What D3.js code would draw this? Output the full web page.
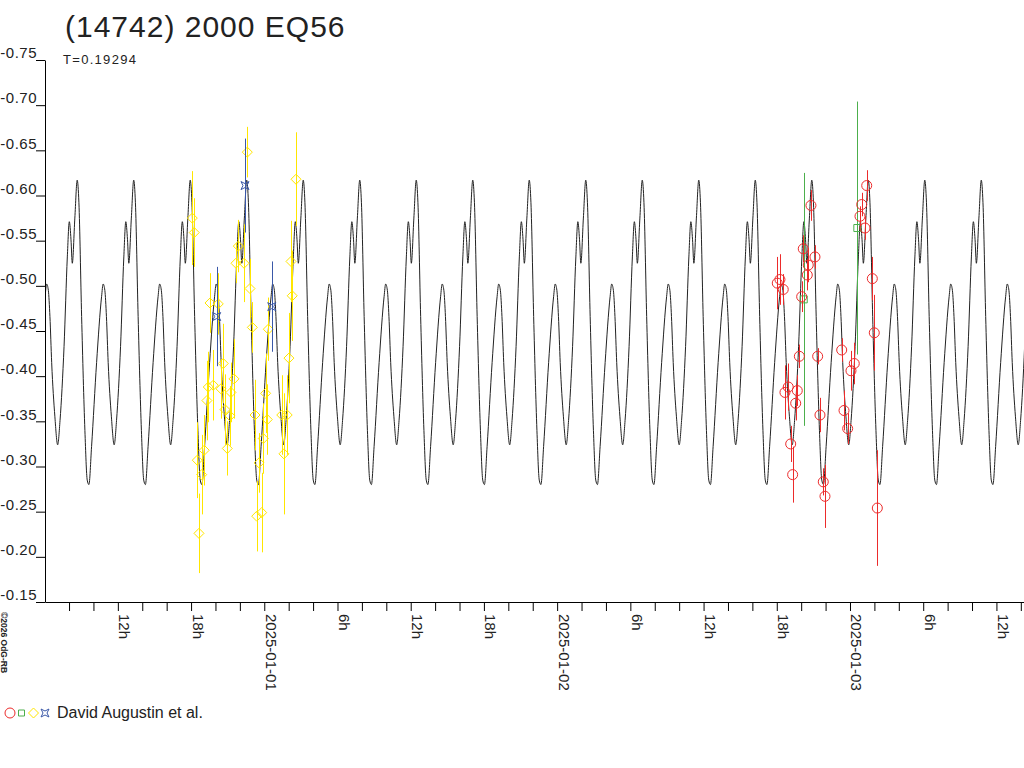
<!DOCTYPE html>
<html>
<head>
<meta charset="utf-8">
<script src="https://cdn.jsdelivr.net/npm/d3@7"></script>
<style>
    body { margin: 0; background: #fff; }
    svg { display: block; font-family: "Liberation Sans", Arial, sans-serif; }
</style>
</head>
<body>
<svg id="chart" width="1024" height="768"></svg>
<script>
const title = "(14742) 2000 EQ56";
const periodDays = 0.19294;
const observer = "David Augustin et al.";
const credit = "\u00a92026 OdG-RB";
const yTicks = [-0.75, -0.70, -0.65, -0.60, -0.55, -0.50, -0.45, -0.40, -0.35, -0.30, -0.25, -0.20, -0.15];

// time span shown, in hours from 2025-01-01 0h UT
const startHours = -17.97;
const endHours = 62.26;

// one period of the model lightcurve (phase 0 = brightest maximum)
const shapePhase = [0, 0.030, 0.078, 0.136, 0.177, 0.207, 0.254, 0.343, 0.431, 0.459, 0.489, 0.517, 0.548, 0.605, 0.654, 0.696, 0.767, 0.825, 0.860, 0.890, 0.913, 0.958];
const shapeMag = [-0.617, -0.592, -0.466, -0.340, -0.285, -0.280, -0.322, -0.415, -0.488, -0.502, -0.495, -0.466, -0.415, -0.355, -0.324, -0.351, -0.433, -0.532, -0.571, -0.551, -0.525, -0.575];
const shapeEpochHours = -15.33;

// yellow diamonds
const yellowHours = [-5.90, -5.74, -4.45, -3.77, -1.39, -2.13, -2.32, -1.66, -1.17, 2.60, 2.19, 2.29, -0.98, 0.33, -3.36, -2.48, -4.59, -4.18, -3.55, -2.73, -4.70, -3.22, -2.81, -3.03, -5.49, -4.92, -5.13, -5.35, 0.11, -0.76, 0.25, -0.08, -0.43, -0.62, -0.21, 2.02, 1.43, 1.88, 1.61];
const yellowMag = [-0.575, -0.559, -0.481, -0.480, -0.648, -0.544, -0.525, -0.525, -0.497, -0.618, -0.527, -0.489, -0.454, -0.452, -0.414, -0.397, -0.388, -0.390, -0.386, -0.382, -0.373, -0.363, -0.356, -0.320, -0.307, -0.318, -0.291, -0.226, -0.381, -0.357, -0.352, -0.331, -0.304, -0.245, -0.249, -0.420, -0.357, -0.357, -0.314];
const yellowErr = [0.052, 0.038, 0.033, 0.034, 0.028, 0.029, 0.022, 0.043, 0.033, 0.052, 0.045, 0.050, 0.028, 0.035, 0.044, 0.044, 0.039, 0.039, 0.033, 0.033, 0.044, 0.039, 0.033, 0.030, 0.042, 0.039, 0.044, 0.044, 0.044, 0.039, 0.039, 0.039, 0.033, 0.039, 0.044, 0.050, 0.044, 0.044, 0.067];

// blue stars
const blueHours = [-1.58, -3.90, 0.61];
const blueMag = [-0.611, -0.466, -0.477];
const blueErr = [0.052, 0.055, 0.050];

// green squares
const greenHours = [44.21, 48.60];
const greenMag = [-0.485, -0.564];
const greenErr = [0.14, 0.14];

// red circles
const redHours = [44.80, 44.17, 45.13, 44.58, 44.50, 42.26, 42.04, 42.53, 44.04, 43.85, 45.35, 47.32, 49.37, 48.96, 48.82, 49.23, 49.83, 49.99, 48.35, 48.08, 42.94, 42.67, 43.68, 43.55, 45.54, 47.51, 47.81, 43.14, 43.30, 45.81, 45.95, 50.24];
const redMag = [-0.589, -0.541, -0.532, -0.523, -0.512, -0.507, -0.503, -0.496, -0.488, -0.422, -0.422, -0.429, -0.611, -0.590, -0.577, -0.564, -0.508, -0.448, -0.414, -0.406, -0.388, -0.382, -0.384, -0.370, -0.357, -0.362, -0.342, -0.325, -0.291, -0.283, -0.267, -0.254];
const redErr = [0.017, 0.015, 0.013, 0.019, 0.017, 0.028, 0.029, 0.017, 0.017, 0.013, 0.009, 0.013, 0.017, 0.013, 0.011, 0.013, 0.024, 0.042, 0.023, 0.022, 0.026, 0.030, 0.017, 0.019, 0.019, 0.022, 0.017, 0.020, 0.031, 0.015, 0.035, 0.064];

const colors = {red: "#ec2b2b", green: "#4caf4c", yellow: "#ffe600", blue: "#3a58a8", curve: "#222"};

const base = Date.UTC(2025, 0, 1);
const toDate = h => new Date(base + h * 3600e3);

const plotLeft = 45, plotRight = 1024, plotTop = 60, plotBottom = 602;

const svg = d3.select("#chart");

const x = d3.scaleUtc()
    .domain([toDate(startHours), toDate(endHours)])
    .range([plotLeft, plotRight]);

const y = d3.scaleLinear()
    .domain([-0.15, -0.75])
    .range([plotBottom, plotTop]);

svg.append("defs").append("clipPath")
    .attr("id", "plotClip")
    .append("rect")
    .attr("x", plotLeft)
    .attr("y", 0)
    .attr("width", plotRight - plotLeft)
    .attr("height", plotBottom);

// model curve, one period repeated along the time axis
const periodHours = periodDays * 24;
const curvePoints = [];
const kFirst = Math.floor((startHours - shapeEpochHours) / periodHours) - 1;
const kLast = Math.ceil((endHours - shapeEpochHours) / periodHours) + 1;
for (let k = kFirst; k <= kLast; k++) {
    shapePhase.forEach((p, i) => {
        curvePoints.push({h: shapeEpochHours + (k + p) * periodHours, mag: shapeMag[i]});
    });
}

const line = d3.line()
    .x(d => x(toDate(d.h)))
    .y(d => y(d.mag))
    .curve(d3.curveMonotoneX);

const plot = svg.append("g").attr("clip-path", "url(#plotClip)");

plot.append("path")
    .datum(curvePoints)
    .attr("fill", "none")
    .attr("stroke", colors.curve)
    .attr("stroke-width", 1)
    .attr("d", line);

// series: error bars then markers
const series = [
    {hours: yellowHours, mag: yellowMag, err: yellowErr, color: colors.yellow, marker: "diamond"},
    {hours: blueHours, mag: blueMag, err: blueErr, color: colors.blue, marker: "star"},
    {hours: greenHours, mag: greenMag, err: greenErr, color: colors.green, marker: "square"},
    {hours: redHours, mag: redMag, err: redErr, color: colors.red, marker: "circle"}
];

const markerPath = {
    diamond: "M0,-5L5,0L0,5L-5,0Z",
    star: "M-4,-4L0,-2L4,-4L2,0L4,4L0,2L-4,4L-2,0Z",
    square: "M-3.5,-3.5H3.5V3.5H-3.5Z",
    smallSquare: "M-3,-3H3V3H-3Z"
};

function drawMarker(sel, type, color) {
    if (type === "circle") {
        sel.append("circle").attr("r", 5)
            .attr("fill", "none").attr("stroke", color);
    } else {
        sel.append("path").attr("d", markerPath[type])
            .attr("fill", "none").attr("stroke", color);
    }
}

series.forEach(s => {
    const data = s.hours.map((h, i) => ({h, mag: s.mag[i], err: s.err[i]}));

    plot.append("g").selectAll("line")
        .data(data)
        .enter().append("line")
        .attr("x1", d => Math.round(x(toDate(d.h))) + 0.5)
        .attr("x2", d => Math.round(x(toDate(d.h))) + 0.5)
        .attr("y1", d => y(d.mag - d.err))
        .attr("y2", d => y(d.mag + d.err))
        .attr("stroke", s.color)
        .attr("stroke-width", 1);

    plot.append("g").selectAll("g")
        .data(data)
        .enter().append("g")
        .attr("transform", d => `translate(${x(toDate(d.h))},${y(d.mag)})`)
        .each(function () { drawMarker(d3.select(this), s.marker, s.color); });
});

// y axis
svg.append("g")
    .attr("transform", `translate(${plotLeft},0)`)
    .call(d3.axisLeft(y).tickValues(yTicks).tickSize(9).tickSizeOuter(0).tickFormat(d => d.toFixed(2)))
    .call(g => g.selectAll("line, path").attr("stroke", "#000"))
    .call(g => g.selectAll("text")
        .attr("x", -8)
        .attr("dy", "-0.15em")
        .attr("fill", "#222")
        .style("font-family", "'Liberation Sans', Arial, sans-serif")
        .style("font-size", "15px")
        .style("letter-spacing", "0.5px"));

// x axis: ticks every 2 h, labels every 6 h
svg.append("g")
    .attr("transform", `translate(0,${plotBottom})`)
    .call(d3.axisBottom(x)
        .ticks(d3.utcHour.every(2))
        .tickSize(9)
        .tickSizeOuter(0)
        .tickFormat(d => {
            const hr = d.getUTCHours();
            if (hr % 6) return "";
            return hr === 0 ? d3.utcFormat("%Y-%m-%d")(d) : hr + "h";
        }))
    .call(g => g.selectAll("line, path").attr("stroke", "#000"))
    .call(g => g.selectAll("text")
        .attr("transform", "rotate(90)")
        .attr("x", 12)
        .attr("y", -1)
        .attr("dy", 0)
        .attr("text-anchor", "start")
        .attr("fill", "#222")
        .style("font-family", "'Liberation Sans', Arial, sans-serif")
        .style("font-size", "15px"));

// titles
svg.append("text")
    .attr("x", 65)
    .attr("y", 37)
    .attr("fill", "#222")
    .style("font-size", "30px")
    .style("letter-spacing", "1px")
    .text(title);

svg.append("text")
    .attr("x", 63)
    .attr("y", 64)
    .attr("fill", "#222")
    .style("font-size", "13px")
    .style("letter-spacing", "1.3px")
    .text("T=" + periodDays);

svg.append("text")
    .attr("transform", "translate(1,612) rotate(90)")
    .attr("fill", "#222")
    .style("font-size", "8.5px")
    .style("font-weight", "bold")
    .text(credit);

// legend
const legend = svg.append("g");
[["circle", colors.red, 10], ["smallSquare", colors.green, 21.5], ["diamond", colors.yellow, 33.5], ["star", colors.blue, 45]]
    .forEach(([type, color, cx]) => {
        const g = legend.append("g").attr("transform", `translate(${cx},713)`);
        drawMarker(g, type, color);
    });

legend.append("text")
    .attr("x", 57)
    .attr("y", 718)
    .attr("fill", "#222")
    .style("font-size", "16px")
    .text(observer);
</script>
</body>
</html>
